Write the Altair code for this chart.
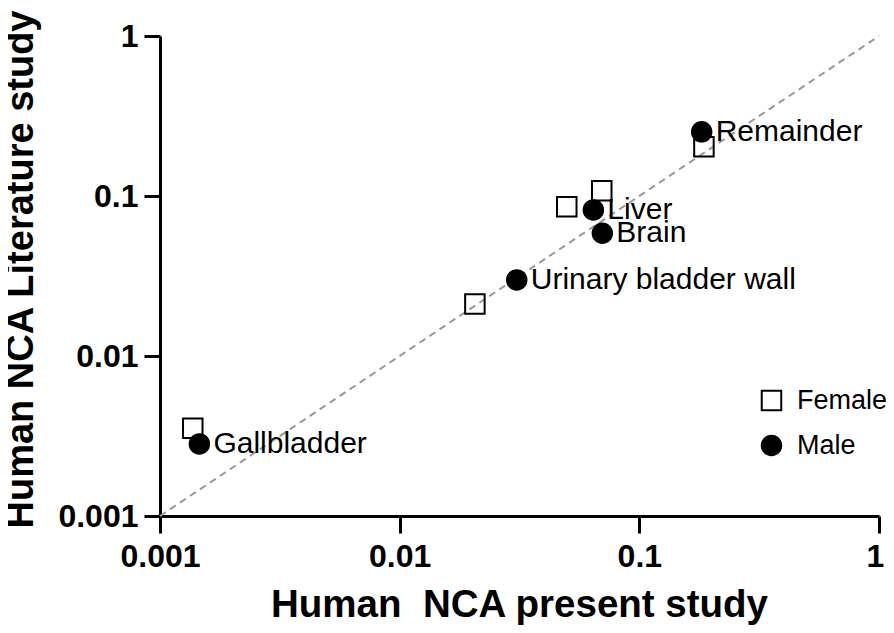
import altair as alt
import pandas as pd

organs = ["Gallbladder", "Urinary bladder wall", "Liver", "Brain", "Remainder"]
female_present = [0.00137, 0.0206, 0.0498, 0.0697, 0.186]
female_literature = [0.00353, 0.0211, 0.0857, 0.108, 0.203]
male_present = [0.00146, 0.0308, 0.0643, 0.0701, 0.182]
male_literature = [0.00282, 0.0299, 0.0818, 0.0585, 0.252]
ticks = [0.001, 0.01, 0.1, 1]
identity = [0.001, 1]

rows = []
for o, x, y in zip(organs, female_present, female_literature):
    rows.append({"organ": o, "sex": "Female", "x": x, "y": y, "label": ""})
for o, x, y in zip(organs, male_present, male_literature):
    rows.append({"organ": o, "sex": "Male", "x": x, "y": y, "label": o})
df = pd.DataFrame(rows)
line_df = pd.DataFrame({"x": identity, "y": identity})

FONT = "Liberation Sans"

xscale = alt.Scale(type="log", domain=[0.001, 1], nice=False)
yscale = alt.Scale(type="log", domain=[0.001, 1], nice=False)

xaxis = alt.Axis(values=ticks, format="~g", grid=False, title="Human\u00a0 NCA present study",
                 labelFont=FONT, labelFontSize=32, labelFontWeight="bold", labelColor="black",
                 labelPadding=8, labelFlush=False,
                 labelOffset={"condition": {"test": "datum.value >= 1", "value": -4}, "value": 0},
                 titleFont=FONT, titleFontSize=38.5, titleFontWeight="bold", titleColor="black",
                 titleBaseline="alphabetic", titleY=100, titleX=359,
                 domainColor="black", domainWidth=3, tickColor="black", tickWidth=3, tickSize=17)
yaxis = alt.Axis(values=ticks, format="~g", grid=False, title="Human NCA Literature study",
                 labelFont=FONT, labelFontSize=32, labelFontWeight="bold", labelColor="black",
                 labelPadding=6, labelFlush=False,
                 titleFont=FONT, titleFontSize=38, titleFontWeight="bold", titleColor="black",
                 titleBaseline="alphabetic", titleX=-128, titleY=233, titleAngle=-90,
                 domainColor="black", domainWidth=3, tickColor="black", tickWidth=3, tickSize=16)

diag = alt.Chart(line_df).mark_line(color="#999999", strokeWidth=2, strokeDash=[7, 5]).encode(
    x=alt.X("x:Q", scale=xscale, axis=xaxis),
    y=alt.Y("y:Q", scale=yscale, axis=yaxis),
)

legend = alt.Legend(title=None, orient="none", legendX=598, legendY=351,
                    labelFont=FONT, labelFontSize=27, labelColor="black",
                    symbolSize=380, symbolStrokeColor="black", symbolStrokeWidth=2,
                    labelOffset=12, rowPadding=16, padding=0)
sex_domain = ["Female", "Male"]

points = alt.Chart(df).mark_point(strokeWidth=2, opacity=1, size=380).encode(
    x=alt.X("x:Q", scale=xscale),
    y=alt.Y("y:Q", scale=yscale),
    shape=alt.Shape("sex:N", scale=alt.Scale(domain=sex_domain, range=["square", "circle"]),
                    legend=legend),
    fill=alt.Fill("sex:N", scale=alt.Scale(domain=sex_domain, range=["transparent", "black"]),
                  legend=legend),
    stroke=alt.Stroke("sex:N", scale=alt.Scale(domain=sex_domain, range=["black", "black"]),
                      legend=legend),
    order=alt.Order("sex:N"),
)

labels = alt.Chart(df[df["label"] != ""]).mark_text(
    align="left", baseline="middle", dx=14, font=FONT, fontSize=30, color="black"
).encode(
    x=alt.X("x:Q", scale=xscale),
    y=alt.Y("y:Q", scale=yscale),
    text="label:N",
)

chart = alt.layer(diag, points, labels).properties(
    width=719, height=480,
    background="white",
    autosize=alt.AutoSizeParams(type="none"),
    padding={"left": 152, "top": 28, "right": 7, "bottom": 109},
).configure_view(stroke=None)

chart.save("out.html", embed_options={"renderer": "svg", "actions": False})
